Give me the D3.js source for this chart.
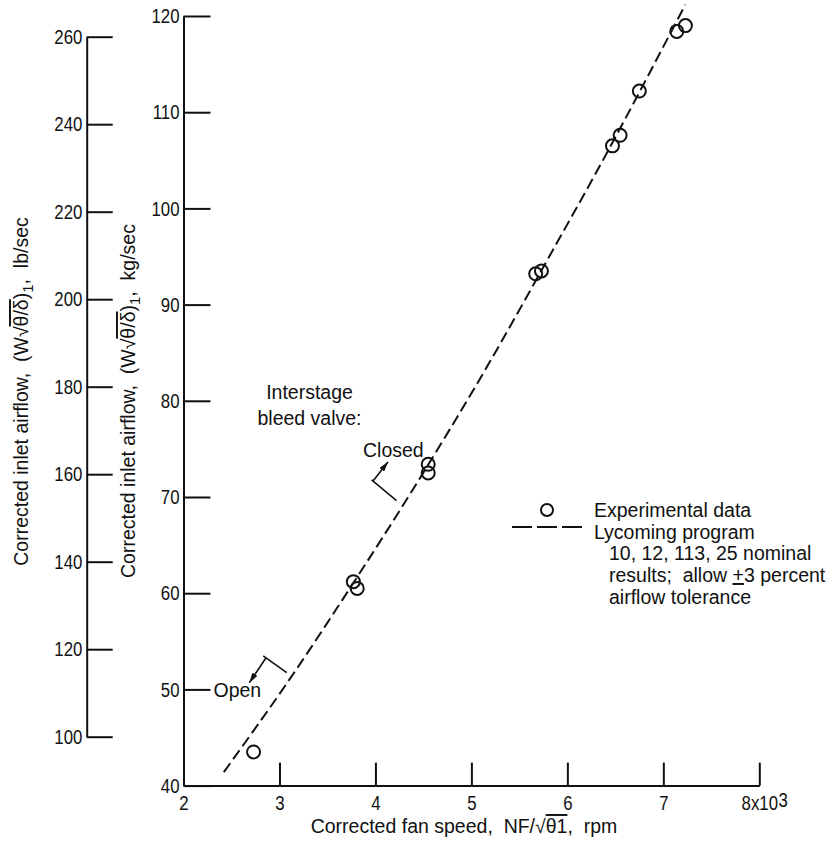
<!DOCTYPE html>
<html>
<head>
<meta charset="utf-8">
<script src="https://cdn.jsdelivr.net/npm/d3@7"></script>
<style>
  html, body { margin: 0; padding: 0; background: #fff; }
  svg { display: block; }
  text { font-family: "Liberation Sans", Arial, sans-serif; fill: #111; }
  .lbl { font-size: 19.5px; }
  .axis path, .axis line { stroke: #111; stroke-width: 2; }
  .axis text, .num { font-size: 21px; }
</style>
</head>
<body>
<svg id="chart" width="840" height="843"></svg>
<script>
// Measured points: corrected fan speed (thousands of rpm) and corrected inlet airflow (kg/sec)
const fanSpeed  = [2.73, 3.77, 3.81, 4.55, 4.55, 5.67, 5.73, 6.47, 6.55, 6.75, 7.14, 7.23];
const airflowKg = [43.5, 61.2, 60.5, 73.4, 72.5, 93.2, 93.5, 106.5, 107.6, 112.2, 118.4, 119.0];

// Lycoming program nominal prediction
const programSpeed = [2.42, 3.15, 3.72, 4.41, 5.09, 5.89, 6.26, 7.23];
const programFlow  = [41.4, 51.7, 60.3, 71.1, 82.3, 96.4, 103.0, 121.2];

// Axis ticks
const speedTicks      = [2, 3, 4, 5, 6, 7, 8];
const speedTickLabels = ["2", "3", "4", "5", "6", "7", "8x10"];
const kgTicks = [40, 50, 60, 70, 80, 90, 100, 110, 120];
const lbTicks = [100, 120, 140, 160, 180, 200, 220, 240, 260];

// Bleed-valve markers (speed, airflow): bracket ends and arrow start/end
const closedBracket = [[3.96, 71.78], [4.22, 69.62]];
const closedArrow   = [[3.975, 71.67], [4.131, 73.65]];
const openBracket   = [[2.831, 53.48], [3.075, 51.74]];
const openArrow     = [[2.857, 53.24], [2.686, 50.70]];

const NARROW = 0.8;   // horizontal squeeze for the condensed numerals

const svg = d3.select("#chart");

const x   = d3.scaleLinear().domain([2, 8]).range([183.5, 759.3]);
const y   = d3.scaleLinear().domain([40, 120]).range([785.6, 16]);
const yLb = d3.scaleLinear().domain([100, 260]).range([736.7, 36.7]);

// arrowhead
svg.append("defs").append("marker")
  .attr("id", "head")
  .attr("viewBox", "0 0 10 6")
  .attr("refX", 10).attr("refY", 3)
  .attr("markerWidth", 10).attr("markerHeight", 6)
  .attr("markerUnits", "userSpaceOnUse")
  .attr("orient", "auto")
  .append("path").attr("d", "M0,0L10,3L0,6Z").attr("fill", "#111");

// kg/sec axis
const gKg = svg.append("g").attr("class", "axis")
  .attr("transform", `translate(${x.range()[0]},0)`)
  .call(d3.axisLeft(y).tickValues(kgTicks).tickSize(-27).tickSizeOuter(0).tickPadding(5));

// lb/sec axis
const gLb = svg.append("g").attr("class", "axis")
  .attr("transform", "translate(86.7,0)")
  .call(d3.axisLeft(yLb).tickValues(lbTicks).tickSize(-26).tickSizeOuter(0).tickPadding(5.5));

// fan speed axis
const gX = svg.append("g").attr("class", "axis")
  .attr("transform", `translate(0,${y.range()[0]})`)
  .call(d3.axisBottom(x).tickValues(speedTicks)
    .tickFormat((d, i) => speedTickLabels[i])
    .tickSize(-23).tickSizeOuter(0).tickPadding(9.5));

[gKg, gLb, gX].forEach(g => {
  g.attr("font-family", null).attr("font-size", null);
  g.selectAll(".tick text").attr("transform", `scale(${NARROW},1)`);
});

// exponent on the last speed label
const lastLabel = gX.selectAll(".tick text").filter((d, i) => i === speedTicks.length - 1);
const lastW = lastLabel.node().getComputedTextLength() * NARROW;
svg.append("text").attr("class", "num")
  .attr("transform", `translate(${x(8) + lastW / 2 + 1},${y.range()[0] + 21}) scale(${NARROW},1)`)
  .text("3");

// program curve
const programLine = d3.line()
  .x(d => x(d[0])).y(d => y(d[1]))
  .curve(d3.curveMonotoneX);
svg.append("path")
  .datum(programSpeed.map((s, i) => [s, programFlow[i]]))
  .attr("d", programLine)
  .attr("fill", "none")
  .attr("stroke", "#111")
  .attr("stroke-width", 2)
  .attr("stroke-dasharray", "11,5");

// experimental points
svg.append("g").selectAll("circle")
  .data(fanSpeed.map((s, i) => [s, airflowKg[i]]))
  .join("circle")
  .attr("cx", d => x(d[0])).attr("cy", d => y(d[1]))
  .attr("r", 6.5)
  .attr("fill", "none").attr("stroke", "#111").attr("stroke-width", 2);

// bleed valve brackets and arrows
const seg = d3.line().x(d => x(d[0])).y(d => y(d[1]));
[closedBracket, openBracket].forEach(b =>
  svg.append("path").attr("d", seg(b)).attr("stroke", "#111").attr("stroke-width", 1.6).attr("fill", "none"));
[closedArrow, openArrow].forEach(a =>
  svg.append("path").attr("d", seg(a)).attr("stroke", "#111").attr("stroke-width", 1.6)
    .attr("fill", "none").attr("marker-end", "url(#head)"));

svg.append("text").attr("class", "lbl").attr("x", 309.5).attr("y", 399).attr("text-anchor", "middle").text("Interstage");
svg.append("text").attr("class", "lbl").attr("x", 309.5).attr("y", 425).attr("text-anchor", "middle").text("bleed valve:");
svg.append("text").attr("class", "lbl").attr("x", 363).attr("y", 456.5).text("Closed");
svg.append("text").attr("class", "lbl").attr("x", 213.5).attr("y", 697).text("Open");

// legend
svg.append("circle").attr("cx", 547).attr("cy", 510).attr("r", 6)
  .attr("fill", "none").attr("stroke", "#111").attr("stroke-width", 2);
svg.append("line").attr("x1", 512).attr("x2", 582).attr("y1", 527).attr("y2", 527)
  .attr("stroke", "#111").attr("stroke-width", 2).attr("stroke-dasharray", "20,5");
svg.append("text").attr("class", "lbl").attr("x", 594).attr("y", 517).text("Experimental data");
svg.append("text").attr("class", "lbl").attr("x", 594).attr("y", 538.5).text("Lycoming program");
svg.append("text").attr("class", "lbl").attr("x", 609).attr("y", 560).text("10, 12, 113, 25 nominal");
const tol = svg.append("text").attr("class", "lbl").attr("x", 609).attr("y", 582);
tol.append("tspan").text("results;\u00a0 allow ");
tol.append("tspan").attr("text-decoration", "underline").text("+");
tol.append("tspan").text("3 percent");
svg.append("text").attr("class", "lbl").attr("x", 609).attr("y", 603.5).text("airflow tolerance");

// axis titles
function airflowTitle(sel, unit) {
  sel.append("tspan").text("Corrected inlet airflow,\u00a0 (W");
  sel.append("tspan").text("\u221A");
  sel.append("tspan").attr("text-decoration", "overline").text("\u03B8/\u03B4");
  sel.append("tspan").text(")");
  sel.append("tspan").attr("dy", 5).attr("font-size", 15).text("1");
  sel.append("tspan").attr("dy", -5).text(",\u00a0 " + unit);
}
svg.append("text").attr("class", "lbl").attr("text-anchor", "middle")
  .attr("transform", "translate(28,391.5) rotate(-90)")
  .call(airflowTitle, "lb/sec");
svg.append("text").attr("class", "lbl").attr("text-anchor", "middle")
  .attr("transform", "translate(135,401) rotate(-90)")
  .call(airflowTitle, "kg/sec");

const xt = svg.append("text").attr("class", "lbl").attr("text-anchor", "middle")
  .attr("x", 464).attr("y", 833);
xt.append("tspan").text("Corrected fan speed,\u00a0 NF/");
xt.append("tspan").text("\u221A");
xt.append("tspan").attr("text-decoration", "overline").text("\u03B81");
xt.append("tspan").text(",\u00a0 rpm");
</script>
</body>
</html>
